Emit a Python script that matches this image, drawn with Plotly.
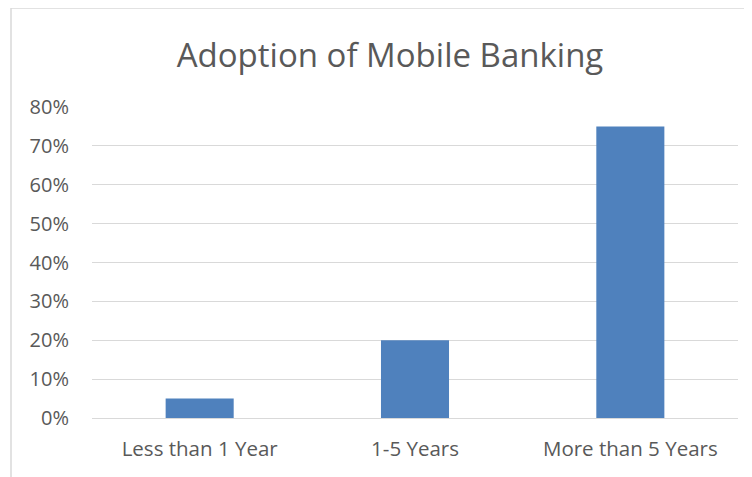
import plotly.graph_objects as go

categories = ["Less than 1 Year", "1-5 Years", "More than 5 Years"]
values = [0.05, 0.20, 0.75]
tick_vals = [0, 0.1, 0.2, 0.3, 0.4, 0.5, 0.6, 0.7, 0.8]
tick_text = ["0%", "10%", "20%", "30%", "40%", "50%", "60%", "70%", "80%"]

OFF = 8  # page body offset
W, H = 752 - OFF, 477 - OFF
L, R, T, B = 92 - OFF, 14, 107 - OFF, 59
pw, ph = W - L - R, H - T - B

fig = go.Figure(go.Bar(x=categories, y=values, marker_color="#4F81BD",
                       marker_line_width=0, width=0.316))

def px(x):
    return (x - OFF - L) / pw

def py(y):
    return (H - B - (y - OFF)) / ph

fig.update_layout(
    width=W, height=H,
    margin=dict(l=L, r=R, t=T, b=B, pad=0),
    paper_bgcolor="white", plot_bgcolor="white",
    font=dict(family="Open Sans", color="#595959", size=20),
    title=dict(text="Adoption of Mobile Banking", x=px(390), xanchor="center",
               y=1 - (55 - OFF) / H, yanchor="middle", xref="paper",
               font=dict(size=33, color="#595959", family="Open Sans")),
    showlegend=False,
    xaxis=dict(showgrid=False, showline=False, ticks="", tickfont=dict(size=20.5)),
    yaxis=dict(range=[0, 0.8], tickvals=tick_vals, ticktext=tick_text,
               showgrid=True, gridcolor="#D9D9D9", gridwidth=1,
               zeroline=True, zerolinecolor="#D9D9D9", zerolinewidth=1,
               showline=False, ticks="", ticklen=0, tickfont=dict(size=20)),
    shapes=[
        dict(type="line", xref="paper", yref="paper", x0=px(11), x1=px(11),
             y0=py(8), y1=py(H + 20), line=dict(color="#D9D9D9", width=1.5)),
        dict(type="line", xref="paper", yref="paper", x0=px(11), x1=px(W + 20),
             y0=py(8), y1=py(8), line=dict(color="#D9D9D9", width=1.5)),
    ],
)
fig.update_yaxes(ticklabelstandoff=22)
fig.update_xaxes(ticklabelstandoff=16)

fig.write_html("out.html")
